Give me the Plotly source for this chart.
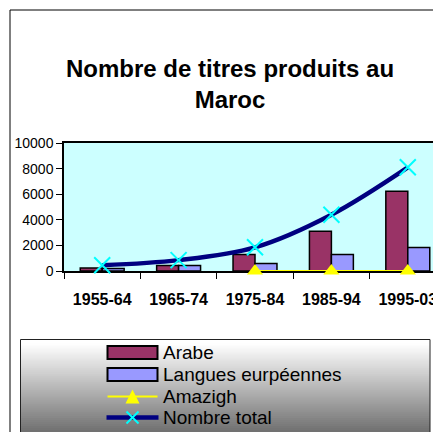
import plotly.graph_objects as go

# données
periodes = ["1955-64", "1965-74", "1975-84", "1985-94", "1995-03"]
arabe = [230, 420, 1280, 3100, 6230]
langues_europeennes = [200, 430, 580, 1280, 1830]
amazigh = [None, None, 0, 0, 0]
nombre_total = [450, 850, 1850, 4400, 8100]
noms = ["Arabe", "Langues eurpéennes", "Amazigh", "Nombre total"]
titre = "Nombre de titres produits au<br>Maroc"

W, H = 441, 432
OFF = 8  # marge du body de la page html
L, R, T, B = 64 - OFF, 3, 143 - OFF, H - (271 - OFF)
PW, PH = W - L - R, H - T - B
FONT = "Liberation Sans, Arial, sans-serif"


def xp(px):
    # px = position voulue à l'écran
    return (px - OFF - L) / PW


def yp(py):
    return (H - B - (py - OFF)) / PH


fig = go.Figure()
fig.add_trace(go.Bar(x=periodes, y=arabe, name=noms[0],
                     marker=dict(color="#993366", line=dict(color="black", width=1.5))))
fig.add_trace(go.Bar(x=periodes, y=langues_europeennes, name=noms[1],
                     marker=dict(color="#9999FF", line=dict(color="black", width=1.5))))
fig.add_trace(go.Scatter(x=periodes, y=amazigh, name=noms[2], mode="lines+markers",
                         line=dict(color="#FFFF00", width=2),
                         marker=dict(symbol="triangle-up", size=14, color="#FFFF00"),
                         cliponaxis=False))
fig.add_trace(go.Scatter(x=periodes, y=nombre_total, name=noms[3], mode="lines+markers",
                         line=dict(color="#000080", width=4.5, shape="spline"),
                         marker=dict(symbol="x-thin", size=16,
                                     line=dict(color="#00FFFF", width=2)),
                         cliponaxis=False))

shapes = []
# cadre extérieur
shapes.append(dict(type="rect", xref="paper", yref="paper",
                   x0=xp(10), x1=xp(470), y0=yp(460), y1=yp(10),
                   line=dict(color="black", width=1)))
# fond dégradé de la légende
top, bot = 339.5, 440
n = 50
for i in range(n):
    y0 = top + (bot - top) * i / n
    y1 = top + (bot - top) * (i + 1) / n
    t = max(0, (y0 - 343) / (432 - 343))
    g = max(0, int(255 - 145 * t))
    shapes.append(dict(type="rect", xref="paper", yref="paper", layer="below",
                       x0=xp(21), x1=xp(430), y0=yp(y1 + 0.5), y1=yp(y0),
                       fillcolor=f"rgb({g},{g},{g})", line=dict(width=0)))
shapes.append(dict(type="rect", xref="paper", yref="paper",
                   x0=xp(20.5), x1=xp(430), y0=yp(460), y1=yp(339.5),
                   line=dict(color="#222222", width=1)))

# symboles de la légende
sx0, sx1, sxc = 107.5, 157.5, 132.5
rows = [352.5, 374.5, 396.5, 417.5]
shapes.append(dict(type="rect", xref="paper", yref="paper",
                   x0=xp(sx0), x1=xp(sx1), y0=yp(rows[0] + 6.5), y1=yp(rows[0] - 6.5),
                   fillcolor="#993366", line=dict(color="black", width=2)))
shapes.append(dict(type="rect", xref="paper", yref="paper",
                   x0=xp(sx0), x1=xp(sx1), y0=yp(rows[1] + 6.5), y1=yp(rows[1] - 6.5),
                   fillcolor="#9999FF", line=dict(color="black", width=2)))
shapes.append(dict(type="line", xref="paper", yref="paper",
                   x0=xp(sx0), x1=xp(sx1), y0=yp(rows[2]), y1=yp(rows[2]),
                   line=dict(color="#FFFF00", width=2)))
shapes.append(dict(type="path", xref="paper", yref="paper",
                   path=f"M{xp(sxc)},{yp(rows[2] - 7)} L{xp(sxc + 7)},{yp(rows[2] + 7)} "
                        f"L{xp(sxc - 7)},{yp(rows[2] + 7)} Z",
                   fillcolor="#FFFF00", line=dict(width=0)))
shapes.append(dict(type="line", xref="paper", yref="paper",
                   x0=xp(sx0 - 1), x1=xp(sx1 + 1), y0=yp(rows[3]), y1=yp(rows[3]),
                   line=dict(color="#000080", width=4.5)))
for d in (1, -1):
    shapes.append(dict(type="line", xref="paper", yref="paper",
                       x0=xp(sxc - 6), x1=xp(sxc + 6),
                       y0=yp(rows[3] - 6 * d), y1=yp(rows[3] + 6 * d),
                       line=dict(color="#00FFFF", width=2)))

annotations = [dict(text=f"<b>{titre}</b>", x=xp(230), y=yp(84), xref="paper", yref="paper",
                    xanchor="center", yanchor="middle", showarrow=False,
                    font=dict(size=24, color="black", family=FONT))]
for nom, row in zip(noms, rows):
    annotations.append(dict(text=nom, x=xp(161), y=yp(row), xref="paper", yref="paper",
                            xanchor="left", yanchor="middle", showarrow=False,
                            font=dict(size=19, color="black", family=FONT)))

fig.update_layout(
    width=W, height=H,
    margin=dict(l=L, r=R, t=T, b=B),
    paper_bgcolor="white",
    plot_bgcolor="#CCFFFF",
    showlegend=False,
    barmode="group",
    bargap=0.425,
    bargroupgap=0,
    font=dict(family=FONT, color="black"),
    shapes=shapes,
    annotations=annotations,
)
fig.update_xaxes(type="category", range=[-0.5, 4.5],
                 showline=True, linecolor="black", linewidth=1.5, mirror=True,
                 ticks="outside", tickson="boundaries", ticklen=6, tickcolor="black",
                 tickfont=dict(size=16, family=FONT, weight="bold"),
                 ticklabelstandoff=13, showgrid=False, layer="below traces")
fig.update_yaxes(range=[0, 10000], dtick=2000, tickformat="d", showline=True,
                 linecolor="black", linewidth=1.5, ticks="outside", ticklen=6,
                 tickcolor="black", tickfont=dict(size=14, family=FONT),
                 showgrid=False, zeroline=False)

fig.write_html("out.html")
